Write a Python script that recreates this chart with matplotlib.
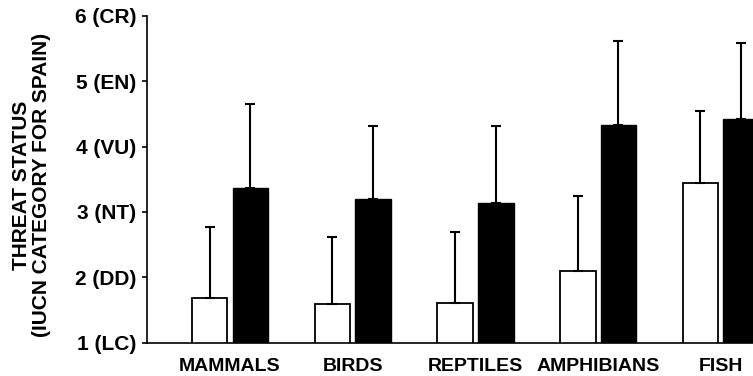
import numpy as np
import matplotlib.pyplot as plt

plt.rcParams['font.family'] = ['Liberation Sans', 'DejaVu Sans']
plt.rcParams['font.weight'] = 'bold'

groups = ['MAMMALS', 'BIRDS', 'REPTILES', 'AMPHIBIANS', 'FISH']
white_mean = [1.69, 1.59, 1.61, 2.10, 3.44]
white_err = [1.08, 1.02, 1.08, 1.14, 1.11]
black_mean = [3.37, 3.20, 3.13, 4.33, 4.42]
black_err = [1.28, 1.11, 1.18, 1.29, 1.16]
ytick_vals = [1, 2, 3, 4, 5, 6]
ytick_labels = ['1 (LC)', '2 (DD)', '3 (NT)', '4 (VU)', '5 (EN)', '6 (CR)']


def main(filename='out.png'):
    fig = plt.figure(figsize=(7.53, 3.76), dpi=100)
    ax = fig.add_axes([0.1952, 0.0886, 0.8048, 0.8696])

    x = np.arange(len(groups))
    off, w = 0.166, 0.29
    err_kw = {'elinewidth': 1.5, 'capthick': 1.5, 'capsize': 3.8, 'ecolor': 'black'}
    ax.bar(x - off, white_mean, w, color='white', edgecolor='black',
           linewidth=1.3, yerr=[np.zeros(len(groups)), white_err],
           error_kw=err_kw, zorder=2)
    ax.bar(x + off, black_mean, w, color='black', edgecolor='black',
           linewidth=1.0, yerr=[np.zeros(len(groups)), black_err],
           error_kw=err_kw, zorder=2)

    ax.set_xlim(-0.676, 4.262)
    ax.set_ylim(1, 6)
    ax.set_yticks(ytick_vals)
    ax.set_yticklabels(ytick_labels, fontsize=15, fontweight='bold')
    ax.set_xticks(x)
    ax.set_xticklabels(groups, fontsize=14, fontweight='bold')
    ax.tick_params(axis='x', length=0, pad=11)
    ax.tick_params(axis='y', length=3.5, width=1.2, pad=4)

    for s in ['top', 'right']:
        ax.spines[s].set_visible(False)
    ax.spines['left'].set_linewidth(1.2)
    ax.spines['bottom'].set_linewidth(1.2)

    fig.text(0.042, 0.508, 'THREAT STATUS\n(IUCN CATEGORY FOR SPAIN)',
             rotation=90, ha='center', va='center', fontsize=15,
             fontweight='bold', linespacing=1.1, multialignment='center')

    fig.savefig(filename)


if __name__ == '__main__':
    main()
